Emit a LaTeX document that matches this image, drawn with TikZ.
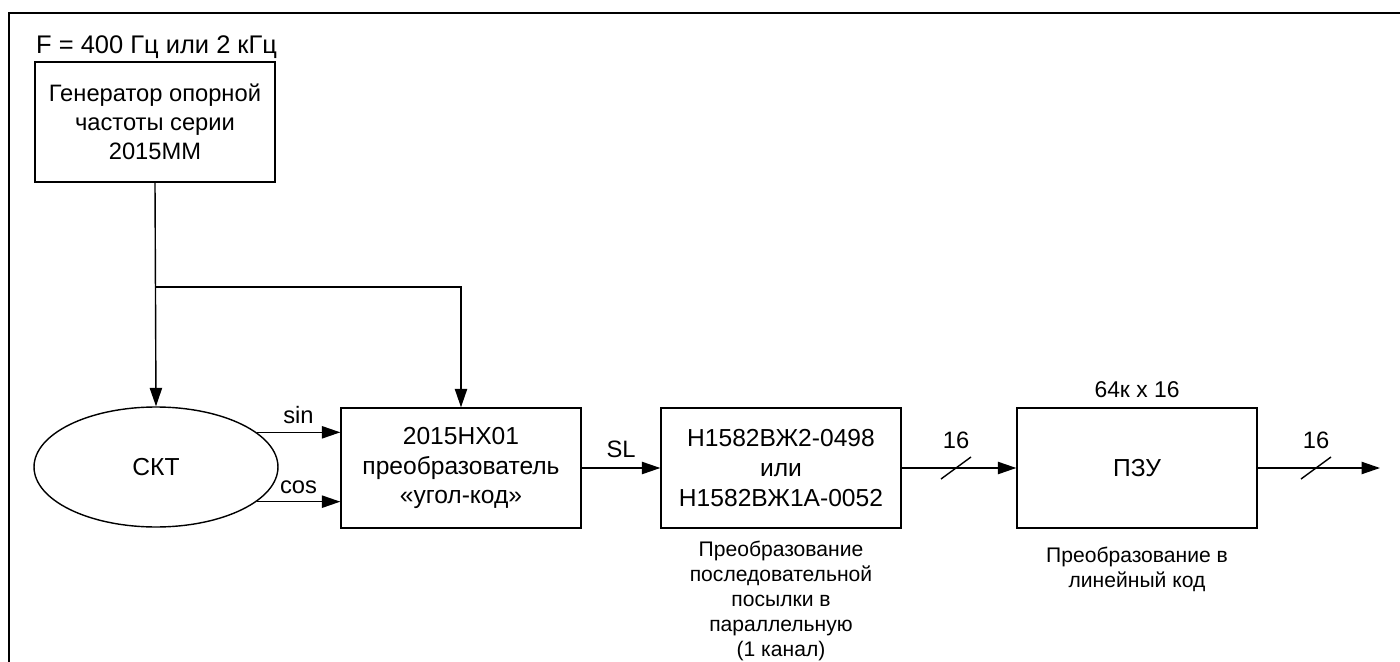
\documentclass[tikz,border=0pt]{standalone}
\usepackage{fontspec}
\setmainfont{Liberation Sans}
\usepackage{tikz}
\usetikzlibrary{shapes}
\usetikzlibrary{arrows.meta}
\usetikzlibrary{positioning}
\usetikzlibrary{calc}

\tikzset{
  block/.style={draw, line width=0.8pt, minimum width=4.8cm, minimum height=2.4cm, align=center, font=\fontsize{14}{17}\selectfont},
  sensor/.style={draw, line width=0.8pt, ellipse, minimum width=4.88cm, minimum height=2.4cm, font=\fontsize{14}{17}\selectfont},
  caption/.style={align=center, font=\fontsize{12}{14.2}\selectfont},
  lbl/.style={font=\fontsize{13.5}{15}\selectfont},
  conn/.style={line width=0.8pt},
  arr/.style={conn, -{Triangle[length=10.5pt, width=7pt]}},
}

\begin{document}
\begin{tikzpicture}[x=0.02cm, y=-0.02cm]
\useasboundingbox (0,0) rectangle (1400,662);

%frame
\draw[line width=1.7pt] (9,700) -- (9,13) -- (1420,13);

%generator
\node[lbl, font=\fontsize{14.5}{17}\selectfont, anchor=west] (freq) at (30,47) {F = 400 Гц или 2 кГц};
\node[block, font=\fontsize{13.5}{16.5}\selectfont] (gen) at (155,122) {Генератор опорной\\частоты серии\\2015ММ};

%sensor and converter
\node[sensor] (skt) at (156,467) {СКТ};
\node[block] (ang) at (461,468) {2015НХ01\\преобразователь\\«угол-код»};

%serial to parallel
\node[block] (ser) at (781,468) {Н1582ВЖ2-0498\\или\\Н1582ВЖ1А-0052};
\node[caption, anchor=north] (sercap) at (781,535) {Преобразование\\последовательной\\посылки в\\параллельную\\(1 канал)};

%rom
\node[block] (rom) at (1137,468) {ПЗУ};
\node[lbl, font=\fontsize{13}{15}\selectfont, above=2pt of rom] (romsize) {64к x 16};
\node[caption, anchor=north] (romcap) at (1137,541) {Преобразование в\\линейный код};

%reference lines
\coordinate (split) at (gen.south |- 0,287);
\draw[arr] (gen.south) -- (skt.north);
\draw[arr] (split) -| (ang.north);

%sin / cos
\draw[arr] (skt.19.5) -- (skt.19.5 -| ang.west) node[lbl, midway, above=1pt] (sin) {sin};
\draw[arr] (skt.-19.5) -- (skt.-19.5 -| ang.west) node[lbl, midway, above=1pt] (cos) {cos};

%SL
\draw[arr] (ang) -- node[lbl, above=2pt] (sl) {SL} (ser);

%bus 16
\draw[arr] (ser) -- (rom);
\coordinate (bus1) at (956,468);
\draw[conn] ($(bus1)+(-15,11)$) -- ($(bus1)+(15,-11)$);
\node[lbl] (w1) at (956,440) {16};

\coordinate (out) at (1380,468);
\draw[arr] (rom) -- (out);
\coordinate (bus2) at (1316,468);
\draw[conn] ($(bus2)+(-15,11)$) -- ($(bus2)+(15,-11)$);
\node[lbl] (w2) at (1316,440) {16};

\end{tikzpicture}
\end{document}
